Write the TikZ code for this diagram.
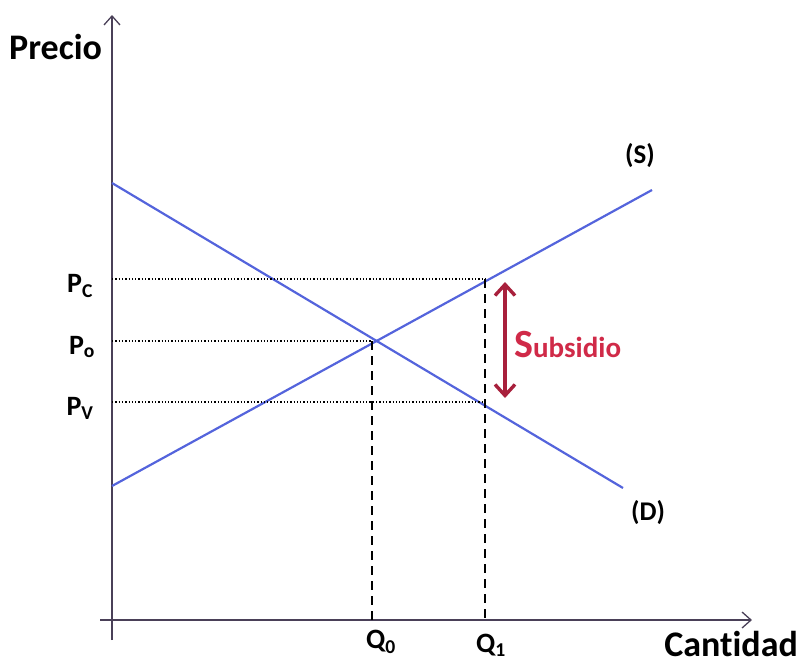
\documentclass[tikz,border=0pt]{standalone}
\usepackage{fontspec}
\setmainfont[Ligatures=NoCommon]{Carlito}
\usetikzlibrary{arrows.meta}
\definecolor{axiscol}{HTML}{4A4058}
\definecolor{curvecol}{HTML}{5464DC}
\definecolor{subcol}{HTML}{D02A48}
\definecolor{arrcol}{HTML}{A8203C}
\tikzset{
  axis/.style={draw=axiscol, line width=1.5pt, -{Straight Barb[length=9pt,width=16pt,line width=1.3pt]}},
  curve/.style={draw=curvecol, line width=2.2pt},
  guide/.style={draw=black, line width=1.3pt, dotted},
  vguide/.style={draw=black, line width=2.4pt, dash pattern=on 9pt off 6pt},
  lbl/.style={font=\bfseries\fontsize{28}{30}\selectfont, inner sep=0pt},
  big/.style={font=\bfseries\fontsize{36}{38}\selectfont, inner sep=0pt},
  paren/.style={font=\bfseries\fontsize{27}{30}\selectfont, inner sep=0pt},
}
\begin{document}
\begin{tikzpicture}[x=1pt,y=-1pt]
\useasboundingbox (0,0) rectangle (802,664);
% axes
\coordinate (yb) at (112,640);
\coordinate (yt) at (112,15);
\coordinate (xl) at (100,620);
\coordinate (xr) at (752,620);
\draw[axis] (yb) -- (yt);
\draw[axis] (xl) -- (xr);
% curves
\coordinate (s1) at (112,486);
\coordinate (s2) at (652,190);
\coordinate (d1) at (112,183);
\coordinate (d2) at (623,488);
\draw[curve] (s1) -- (s2);
\draw[curve] (d1) -- (d2);
% key points
\coordinate (pc) at (112,279);
\coordinate (po) at (112,341);
\coordinate (pv) at (112,402);
\coordinate (E) at (372,341);
\coordinate (C) at (485,279);
\coordinate (V) at (485,402);
\coordinate (q0) at (372,620);
\coordinate (q1) at (485,620);
\draw[guide] (pc) -- (C);
\draw[guide] (po) -- (E);
\draw[guide] (pv) -- (V);
\draw[vguide] (E) -- (q0);
\draw[vguide] (C) -- (q1);
% subsidy arrow
\coordinate (a1) at (505,282);
\coordinate (a2) at (505,398);
\draw[draw=arrcol, line width=3.6pt, {Straight Barb[length=11pt,width=20pt,line width=3.4pt]}-{Straight Barb[length=11pt,width=20pt,line width=3.4pt]}] (a1) -- (a2);
\node[anchor=west, inner sep=0pt, text=subcol] (sub) at (514,345) {\bfseries\fontsize{40}{42}\selectfont S\fontsize{29}{30}\selectfont ubsidio};
% labels
\node[big, anchor=west] (precio) at (9,47) {Precio};
\node[big, anchor=east] (cant) at (798,644) {Cantidad};
\node[lbl] (lpc) at (80,286) {P\textsubscript{C}};
\node[lbl] (lpo) at (82,347) {P\textsubscript{o}};
\node[lbl] (lpv) at (80,408) {P\textsubscript{V}};
\node[lbl] (lq0) at (381,642) {Q\textsubscript{0}};
\node[lbl] (lq1) at (491,645) {Q\textsubscript{1}};
\node[paren] (ls) at (640,156) {(S)};
\node[paren] (ld) at (648,513) {(D)};
\end{tikzpicture}
\end{document}
